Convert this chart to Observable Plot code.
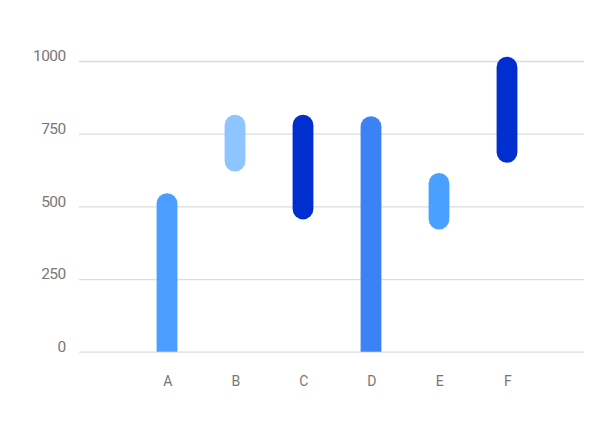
<!DOCTYPE html>
<html>
<head>
<meta charset="utf-8">
<script src="https://cdn.jsdelivr.net/npm/d3@7"></script>
<script src="https://cdn.jsdelivr.net/npm/@observablehq/plot@0.6"></script>
<style>
  html, body { margin: 0; padding: 0; background: #fff; }
  #chart svg { display: block; }
  #chart svg text { letter-spacing: -0.6px; }
</style>
</head>
<body>
<div id="chart"></div>
<script>
const categories = ["A", "B", "C", "D", "E", "F"];
const lows  = [0, 620, 455, 0, 420, 650];
const highs = [545, 815, 815, 810, 615, 1015];
const colors = ["#4a9eff", "#8fc5ff", "#002ecf", "#3b82f6", "#4aa0ff", "#002ecf"];
const yTicks = [0, 250, 500, 750, 1000];

const data = categories.map((c, i) => ({cat: c, low: lows[i], high: highs[i], color: colors[i]}));
const floating = data.filter(d => d.low > 0);
const grounded = data.filter(d => d.low === 0);

const font = "Roboto, 'Liberation Sans', sans-serif";

const chart = Plot.plot({
  width: 600,
  height: 445,
  marginTop: 61,
  marginBottom: 93.3,
  marginLeft: 79,
  marginRight: 16,
  style: {fontFamily: font, background: "#fff"},
  x: {domain: categories, range: [132.4, 541.6], padding: 0},
  y: {domain: [0, 1000]},
  marks: [
    Plot.ruleY(yTicks, {stroke: "#dcdcdc", strokeWidth: 1.3}),
    Plot.barY(floating, {x: "cat", y1: "low", y2: "high", fill: "color", rx: 10.5, insetLeft: 23.6, insetRight: 23.6}),
    // grounded bars: rounded end below the baseline is clipped away by the frame
    Plot.barY(grounded, {x: "cat", y1: d => d.low - 80, y2: "high", fill: "color", rx: 10.5, insetLeft: 23.6, insetRight: 23.6, clip: "frame"}),
    Plot.axisY({ticks: yTicks, tickSize: 0, tickPadding: 14, tickFormat: d => String(d), fontSize: 15.5, fill: "#777", dy: -5, label: null}),
    Plot.axisX({tickSize: 0, tickPadding: 24, fontSize: 14, fill: "#777", label: null})
  ]
});
document.getElementById("chart").appendChild(chart);
</script>
</body>
</html>
